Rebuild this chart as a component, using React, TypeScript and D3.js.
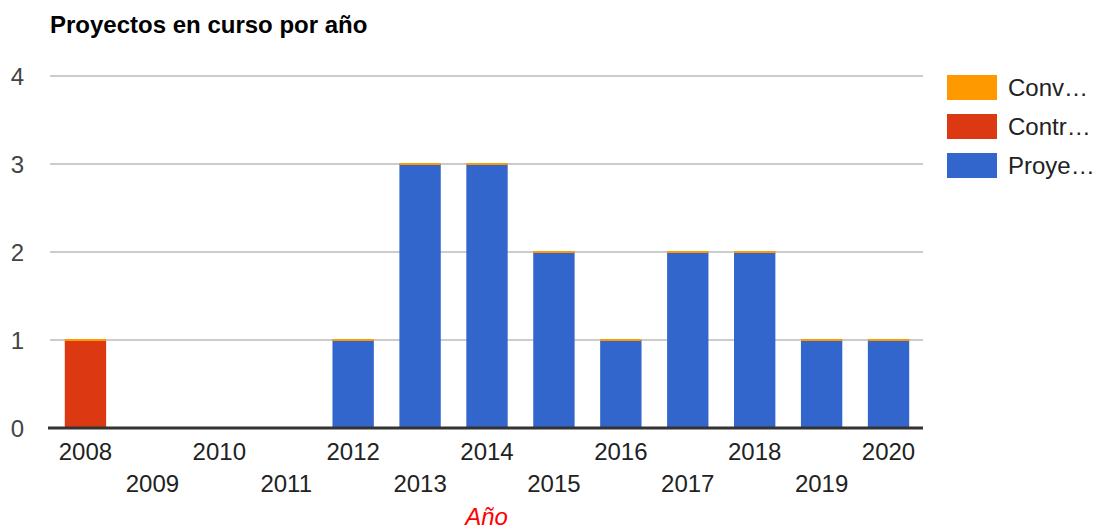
import * as React from 'react';
import { scaleBand, scaleLinear, stack } from 'd3';

const years = ['2008', '2009', '2010', '2011', '2012', '2013', '2014', '2015', '2016', '2017', '2018', '2019', '2020'];
const seriesKeys = ['proye', 'contr', 'conv'];
const seriesLabels = ['Proye…', 'Contr…', 'Conv…'];
const seriesColors = ['#3366cc', '#dc3912', '#ff9900'];
const proyeValues = [0, 0, 0, 0, 1, 3, 3, 2, 1, 2, 2, 1, 1];
const contrValues = [1, 0, 0, 0, 0, 0, 0, 0, 0, 0, 0, 0, 0];
const convValues = [0, 0, 0, 0, 0, 0, 0, 0, 0, 0, 0, 0, 0];
const yTicks = [0, 1, 2, 3, 4];

const W = 1098;
const H = 529;
const FONT = '"Liberation Sans", Arial, sans-serif';

const App = (): JSX.Element => {
    const rows = years.map((y, i) => ({
        year: y,
        proye: proyeValues[i],
        contr: contrValues[i],
        conv: convValues[i],
    }));
    const layers = stack<any>().keys(seriesKeys)(rows);

    const x = scaleBand<string>().domain(years).range([52, 922]).paddingInner(0.382).paddingOuter(0.191);
    const y = scaleLinear().domain([0, 4]).range([428, 76]);
    const gridLeft = 50;
    const gridRight = 923;

    return (
        <svg width={W} height={H} style={{ position: 'absolute', left: 0, top: 0, fontFamily: FONT }}>
            <rect width={W} height={H} fill="#fff" />
            <text x={50} y={33} fontSize={24} fontWeight="bold" fill="#000">Proyectos en curso por año</text>

            {yTicks.map(t => (
                <g key={t}>
                    {t > 0 && <line x1={gridLeft} x2={gridRight} y1={y(t)} y2={y(t)} stroke="#cccccc" strokeWidth={2} />}
                    <text x={24} y={y(t)} dy="0.36em" textAnchor="end" fontSize={24} fill="#444">{t}</text>
                </g>
            ))}

            {layers.map((layer, li) => (
                <g key={layer.key} fill={seriesColors[li]}>
                    {layer.map((d: any, i: number) => {
                        const total = proyeValues[i] + contrValues[i] + convValues[i];
                        if (total === 0) return null;
                        const h = y(d[0]) - y(d[1]);
                        // zero segments still show as a thin cap on top of the stack
                        if (h === 0) {
                            if (li !== seriesKeys.length - 1) return null;
                            return <rect key={i} x={x(years[i])} y={y(d[1]) - 1} width={x.bandwidth()} height={2} />;
                        }
                        return <rect key={i} x={x(years[i])} y={y(d[1])} width={x.bandwidth()} height={h} />;
                    })}
                </g>
            ))}

            <line x1={48} x2={gridRight} y1={428} y2={428} stroke="#333333" strokeWidth={3} />

            {years.map((yr, i) => (
                <text key={yr} x={(x(yr) as number) + x.bandwidth() / 2} y={i % 2 === 0 ? 460 : 492}
                    textAnchor="middle" fontSize={24} fill="#222">{yr}</text>
            ))}

            <text x={(gridLeft + gridRight) / 2} y={525} textAnchor="middle" fontSize={24} fontStyle="italic" fill="#ff0000">Año</text>

            {[2, 1, 0].map((si, k) => (
                <g key={si} transform={`translate(947, ${75 + k * 39})`}>
                    <rect width={50} height={25} fill={seriesColors[si]} />
                    <text x={61} y={12.5} dy="0.36em" fontSize={24} fill="#222">{seriesLabels[si]}</text>
                </g>
            ))}
        </svg>
    );
};

export default App;
